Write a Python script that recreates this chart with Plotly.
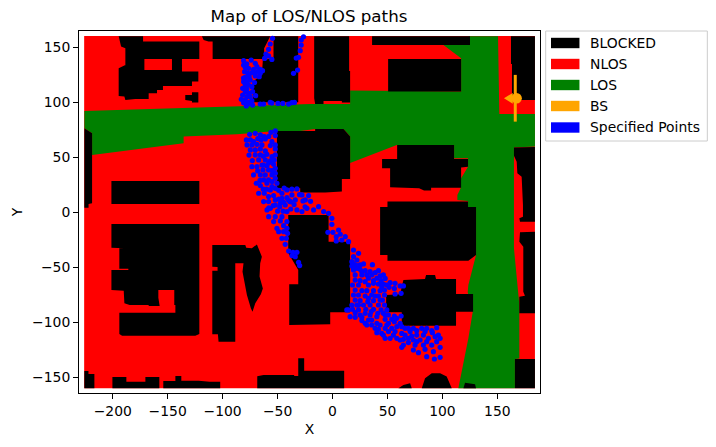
import plotly.graph_objects as go

# ---- data (all in data units) ----
los_polygon = [(-225.8,92),(-20.3,98.5),(16,98.5),(16,110.6),(117,109.7),(117,140),(100.9,152),(125.1,160),(150.6,160),
 (151.8,89.4),(184.2,89.4),(184.2,59.7),(165.1,59),(165.1,-32.8),(170,-84),(170,-133),(166,-133.4),(166,-160),(114.5,-160),
 (117.6,-144.9),(123.6,-114.6),(127.6,-90.4),(123,-72.8),(123.6,-66.1),(129.7,-41.9),(130.6,-38.9),(130.6,4.3),(123.3,4.3),
 (123.3,10.3),(113.6,11.2),(113.6,15.8),(116.6,21.8),(117,30.9),(120.6,37),(123.3,41.5),(123.3,49.1),(110.6,49.1),(110.6,61.2),
 (58.5,61.2),(16,44.9),(16,68.8),(10,75.8),(-15.8,75.8),(-29.4,74),(-50.6,74),(-87,70.9),(-135.5,68.8),(-135.5,62.7),
 (-218.8,52.1),(-218.8,71.8),(-225.8,76.4)]

blocked_polygons = [
 [(-194.6,160),(-172.4,160),(-172.4,155.2),(-121.2,155.2),(-121.2,139.4),(-137,139.4),(-137,129.4),(-146.1,129.4),(-146.1,139.4),(-171.2,139.4),(-171.2,129.4),(-188.5,129.4),(-188.5,140),(-188.5,149.1),(-192.4,150.6)],
 [(-194.6,130.9),(-188.5,134),(-171.2,134),(-171.2,129.4),(-137,129.4),(-137,127.9),(-122.1,127.9),(-122.1,118.8),(-127.9,118.8),(-127.9,114.9),(-154.3,114.9),(-154.3,111.2),(-159.7,111.2),(-159.7,108.2),(-167.3,108.2),(-167.3,103),(-179.4,103),(-188.5,102.1),(-189.4,105.2),(-194.6,105.8)],
 [(-134,106.7),(-127.9,106.7),(-127.9,109.1),(-122.1,109.1),(-122.1,99.7),(-127.9,99.7),(-127.9,101.2),(-134,102.1)],
 [(-118.8,160),(-117.3,156.7),(-112.8,155.2),(-109.1,155.2),(-109.1,139.4),(-62.2,139.4),(-62.2,149.1),(-58.2,156.7),(-56.7,160)],
 [(-53.7,160),(-31.2,160),(-31.2,100),(-72.5,100),(-72.5,118.8),(-64.3,124.9),(-63.4,138.5),(-53.7,140)],
 [(-225.8,76.4),(-218.8,71.8),(-218.8,8.2),(-222,7.6),(-222,4.2),(-225.8,4.2)],
 [(-201.2,28.5),(-121.2,28.5),(-121.2,7.6),(-201.2,7.6)],
 [(-50.6,74),(-15.8,74),(-15.8,75.8),(10,75.8),(16,68.8),(16,30.3),(8.5,30.3),(8.5,18.8),(-6.7,17.9),(-29.4,17.9),(-29.4,21.8),(-50.6,21.8)],
 [(-40.3,-2.5),(-40.3,-37),(-31.2,-52.5),(-31.2,-65.5),(-39.4,-65.5),(-39.4,-102.5),(-2.1,-101.9),(-2.1,-91),(16,-91),(16,-26.7),(-3.6,-26.7),(-3.6,-2.5)],
 [(-201.2,-10.7),(-121.2,-10.7),(-121.2,-110.7),(-124.9,-112.2),(-191.5,-112.2),(-194,-110.7),(-194,-91.3),(-143,-91.3),(-143,-84.3),(-144,-84.3),(-144,-70.7),(-158.5,-70.7),(-158.5,-77.6),(-157.3,-85.2),(-167.3,-85.2),(-167.3,-84.3),(-184.6,-84.3),(-189.4,-82.8),(-190,-71.3),(-201.2,-70.7),(-201.2,-52.5),(-185.8,-52.5),(-185.8,-51.3),(-194,-51.3),(-194,-32.8),(-189.4,-32.8),(-201.2,-32.2)],
 [(-109.4,-29.8),(-79.4,-29.8),(-78.5,-32.2),(-73.4,-32.8),(-68.8,-29.2),(-64.3,-40.4),(-65.8,-46.4),(-65.8,-54),(-66.4,-58.5),(-63.4,-69.2),(-65.2,-74.6),(-70.3,-82.8),(-72.8,-90.4),(-74.3,-87.3),(-77.9,-75.2),(-81.9,-54),(-81,-46.4),(-88.5,-46.4),(-88.5,-117.6),(-103.7,-117.6),(-104.3,-111),(-109.4,-111),(-109.4,-53.1),(-104.6,-53.1),(-104.6,-49.8),(-109.4,-49.5)],
 [(-225.8,-144.3),(-222.1,-144.3),(-222.1,-147),(-216.7,-147),(-216.7,-160),(-225.8,-160)],
 [(-200.3,-149.7),(-187.6,-149.7),(-187.6,-154),(-170.3,-154),(-170.3,-149.7),(-157.6,-149.7),(-157.6,-160),(-200.3,-160)],
 [(-154,-153.4),(-143,-153.4),(-143,-148.8),(-137.6,-148.8),(-137.6,-153.1),(-121.8,-153.1),(-111.8,-154),(-102.2,-154),(-102.2,-160),(-154,-160)],
 [(-68.5,-149.1),(-62.8,-147.9),(-34.9,-147.9),(-34.9,-148.8),(-31.2,-148.8),(-31.2,-132.8),(-25.8,-132.8),(-25.8,-144),(10.6,-144),(10.6,-160),(-68.5,-160)],
 [(60,-160),(64.5,-157),(70.6,-155.5),(72.1,-160)],
 [(81.2,-160),(84.2,-151),(90.3,-146.4),(97.9,-146.4),(103.9,-149.4),(108.5,-160)],
 [(119.1,-160),(120.6,-154.9),(129.7,-156.4),(130.6,-160)],
 [(166,-133.4),(184.2,-133.4),(184.2,-160),(166,-160)],
 [(36,160),(125.1,160),(125.1,152.1),(36,152.1)],
 [(50.6,139.4),(117,139.4),(117,109.7),(50.6,109.7)],
 [(-16.7,160),(15.1,160),(15.1,128.5),(16,128.5),(16,99.7),(8.5,99.7),(8.5,101.2),(-8.2,101.2),(-8.2,98.5),(-15.8,98.5),(-16.7,103.6)],
 [(162.4,160),(184.2,160),(184.2,102.1),(163.3,102.1),(163.3,134.8),(162.4,134.8)],
 [(58.8,61.2),(110.6,61.2),(110.6,48.5),(123.3,48.5),(123.3,41.5),(117,40.6),(117,22.4),(89.7,22.4),(89.7,19.7),(83.3,19.7),(78.8,21.8),(52.4,22.7),(52.4,40),(45.1,40),(45.1,48.5),(58.8,48.5)],
 [(165.1,58.8),(179.1,58.8),(179.1,59.4),(184.2,59.4),(184.2,-8.6),(170.6,-8.6),(170,-5.5),(173.3,-4),(173.3,6.7),(172.1,32.4),(168.2,35.5),(167.6,46),(165.1,51.5)],
 [(170.6,-18.2),(184.2,-17.6),(184.2,-91.9),(170,-91.9),(170,-76.7),(175.1,-75.8),(173.6,-72.2),(173.6,-31.3),(170,-26.7)],
 [(50,9.7),(123.3,9.7),(123.3,4.9),(130.6,4.9),(130.6,-38.9),(123.6,-44),(50,-44),(50,-38.9),(43.3,-38.9),(43.3,4.9),(50,4.9)],
 [(64.5,-61.6),(84.2,-60.7),(85.1,-57),(93.3,-57),(94.2,-60.7),(112.4,-60.7),(112.4,-74.3),(127.9,-74.3),(127.9,-90.4),(112.4,-90.4),(112.4,-103.1),(63,-103.1),(63,-91),(48.8,-91),(48.8,-75.2),(61.5,-74.6)],
]

points_north = [(-54.6,158.1),(-56.7,153),(-58.2,148.1),(-60.6,143.9),(-61.8,139.9),(-58.2,142.1),(-55.2,139),(-26.4,159.5),(-28.5,156.6),(-28.5,152),(-29.4,146.9),(-30.9,140.9),(-33,140.2),(-35.5,126.3),(-31.8,129.3),
 (-80.9,137.8),(-80.9,133.9),(-79.4,131.8),(-74,138.4),(-70.3,135.4),(-68.8,132.4),(-76.4,130.9),(-71.8,130),(-65.8,130),(-63.7,128.7),(-80,127.8),(-77,126.3),(-73.4,126.9),(-70.3,126.3),(-65.8,126.3),(-79.4,122.7),(-75.8,123.3),(-70.3,123.9),(-66.7,123.3),(-80.9,118.7),(-77.9,118.7),(-74.9,120.2),(-79.4,115.7),(-76.4,115.7),(-81.8,112.7),(-73.4,114.2),(-79.4,109.6),(-75.8,108.1),(-72.7,109.6),(-81.8,106.6),(-77.9,105.1),(-74.9,105.1),(-83,102.7),(-79.4,102.1),(-73.4,101.5),(-80.9,99.6),(-77,98.4),(-78.5,96.6),(-72.7,97.5),(-65.8,98.4),(-62.7,98.4),(-56.7,99.9),(-55.2,99.3),(-49.7,99),(-45.2,99),(-40,98.4),(-37,99.6),(-34.6,99.9),
 (-78,135),(-68,128),(-78,112),(-71,118),(-76,100),(-70,106),(-81,122)]

points_middle = [(-75.4,70.9),(-70.3,71.8),(-65.7,70.3),(-62.1,68.8),(-56,72.7),(-52.1,74),(-52.1,69.7),(-78.4,65.8),(-74.8,65.8),(-71.8,64.3),(-65.1,65.8),(-61.2,66.7),(-55.1,64.3),(-52.1,61.2),(-77.8,61.2),(-73.3,61.2),(-68.8,61.8),(-64.2,61.2),(-56.6,60.6),(-74.8,56.7),(-70.3,56.7),(-65.7,57.6),(-61.2,55.8),(-52.1,57.6),(-70.3,52.1),(-65.7,52.1),(-59.7,52.7),(-55.1,50.6),(-52.1,52.1),(-67.2,47.6),(-61.2,47.6),(-56.6,46.7),(-53,47.6),(-73.3,41.5),(-68.8,41.5),(-64.2,43),(-59.7,42.4),(-53.6,43.6),(-68.1,37.6),(-63.3,38.5),(-58.2,38.5),(-52.1,40),(-71.8,34),(-65.7,34),(-61.2,34),(-55.1,34),(-52.1,35.5),(-62.7,29.4),(-58.2,29.4),(-52.1,30.9),(-69.4,26.4),(-65.7,24.3),(-59.7,26.4),(-55.1,23.4),(-50.6,26.4),(-67.2,17.3),(-62.1,17.3),(-56.6,20.3),(-52.1,21.8),(-58.2,14.3),(-53.6,15.2),(-62.7,9.7),(-58.2,9.7),(-52.1,11.2),(-46,17.3),(-41.5,20.3),(-46,12.7),(-41.5,13.3),(-36.9,15.8),(-32.4,21.2),(-33.9,11.2),(-38.4,9.7),(-44.5,9.1),(-27.8,15.8),(-24.8,11.2),(-21.8,15.2),(-26.9,10.3),
 (-68,67),(-58,69),(-76,52),(-73,47),(-63,51),(-58,45),(-63,43),(-55,38),(-66,29),(-55,28),(-60,21),(-63,21),(-49,20),(-44,22),(-37,21),(-30,16),(-40,11),(-49,12),(-35,7),(-54,6),(-48,5),(-58,4),(-50,1),(-45,1),(-38,3),(-25,5),(-20,10)]

points_neck = [(-59.6,2.1),(-56.6,3.6),(-52.1,6.6),(-47.5,8.1),(-43,6.6),(-38.4,9.6),(-32.4,2.1),(-27.8,0.6),(-23.3,3.6),(-17.2,2.1),(-12.7,5.1),(-8.1,0.6),(-3.6,-1),(-58.1,-4),(-52.1,-4),(-46,-4),(-41.5,0.6),(-53.6,-8.5),(-47.5,-7.9),(-41.5,-8.5),(-0.6,-5.5),(-50.6,-14.6),(-44.5,-12.2),(-41.5,-14.6),(-49,-17.6),(-44.5,-17.6),(-40.9,-19.1),(-46,-23.7),(-42.1,-23.7),(-43,-29.1),(-39.9,-35.2),(-36,-36.4),(-32.4,-36.4),(-33.9,-40.4),(-36.9,-39.4),(-30.9,-45.5),(-29.9,-48.5),(-4.2,-18.2),(-0.6,-11),(0.4,-18.2),(5.5,-16.1),(3.4,-22.2),(7,-20),(8.5,-25.2),(11.6,-22.2),(14.6,-26.7),(3.4,-26.1),(19.1,-34.3),(23.7,-37.3),(19.1,-40.4),(22.2,-43.4),(18.5,-46.4),(23.7,-48.5),(19.1,-51.6)]

points_south = [(17.6,-44.9),(17.6,-48.9),(20.6,-47.9),(25.1,-47.9),(28.2,-47),(36.3,-47.6),(19.1,-52.5),(25.1,-51.9),(29.7,-53.1),(34.2,-54),(38.8,-54.9),(41.8,-53.1),(20.6,-57),(26.7,-57),(31.2,-57),(35.7,-57),(43.3,-57.9),(46.3,-57),(20.6,-61.6),(25.1,-62.2),(29.7,-63.1),(37.3,-62.2),(44.2,-62.2),(47.9,-60.1),(52.4,-64),(56.9,-64.6),(64.5,-67),(18.2,-66.1),(23.6,-66.1),(32.7,-66.1),(41.8,-65.2),(46.3,-65.2),(51.5,-68.2),(56.3,-69.2),(61.5,-67),(20.6,-70.7),(26.7,-71.3),(31.2,-71.3),(37.3,-71.3),(43.3,-71.3),(47.3,-70.7),(56.9,-74.3),(62.4,-73.7),(19.1,-75.2),(23.6,-75.2),(29.7,-76.1),(35.7,-75.2),(41.8,-76.1),(47.3,-75.2),(20.6,-79.8),(25.1,-80.4),(32.1,-81.3),(37.3,-80.4),(45.4,-79.8),(17.6,-84.3),(22.1,-84.3),(28.2,-84.3),(34.2,-84.3),(41.8,-84.3),(47.3,-84.3),(13,-88.8),(18.2,-88.2),(23.6,-88.8),(30.3,-88.2),(37.3,-88.2),(44.2,-88.8),(50.9,-93.4),(56.3,-94.3),(62.4,-94.3),(16,-94.9),(20.6,-95.5),(26.7,-95.5),(26.7,-98.5),(34.2,-93.4),(40.3,-94.9),(47.9,-97.3),(53.9,-97.3),(58.5,-96.4),(61.5,-101),(31.2,-102.5),(35.7,-102.5),(40.3,-101),(43.3,-102.5),(49.4,-102.5),(58.5,-104),(66,-105.5),(73.6,-105.5),(81.2,-105.5),(94.8,-104.9),(40.3,-109.5),(44.8,-110.1),(50.9,-108.5),(56.9,-108.5),(63,-110.1),(70.6,-108.5),(76.6,-111.6),(84.2,-108.5),(90.9,-109.5),(96.3,-111.6),(47.9,-114.6),(52.4,-114.6),(58.5,-114.6),(64.5,-115.5),(73.6,-116.1),(79.7,-116.1),(87.3,-114.6),(97.9,-114.6),(64.5,-120.7),(69,-118.5),(75.1,-120.7),(82.7,-120.7),(90.3,-120.7),(97.9,-122.8),(73.6,-125.2),(78.2,-127.6),(84.2,-124.6),(91.8,-126.7),(85.7,-131.3),(92.7,-133.4),(97.9,-131.9),(63,-122.8),
 (22.1,-51),(26.7,-54),(32.7,-60),(37.3,-64.6),(40.3,-60),(44.8,-67.6),(49.4,-66.1),(14.5,-88.8),(20.6,-91.3),(25.1,-93.4),(29.7,-91.9),(35.1,-90.4),(41.2,-91.9),(46.3,-91.9),(49.4,-88.8),(32.7,-78.2),(38.8,-76.1),(43.3,-79.8),(23.6,-84.3),(63,-104),(69,-105.5),(76.6,-107.6),(85.7,-105.5),(90.3,-107.6),(66,-111.6),(72.1,-112.5),(82.7,-111.6),(93.3,-113.1),(61.5,-116.1),(69,-114.6),(76.6,-117.6),(85.7,-117.6),(94.8,-117.6),(41.8,-106.4),(47.9,-105.5),(53.9,-105.5),(46.3,-111.6),(55.4,-111.6),(50.9,-101),(56.3,-99.5),(47.9,-93.4),(35.7,-98),(38.8,-105.5),(32.7,-98),(29.7,-101)]

bs_line_x = [166.3, 166.3]
bs_line_y = [82.4, 124.9]
bs_x = [167.5]
bs_y = [103.6]
bs_arrow_x = [156, 164, 164]
bs_arrow_y = [103.6, 108.5, 98.7]

map_x = [-226, 184.2, 184.2, -226]
map_y = [-160, -160, 160.3, 160.3]
x_range = [-230.7, 188.8]
y_range = [-164.3, 164.8]
legend_labels = ["BLOCKED", "NLOS", "LOS", "BS", "Specified Points"]
legend_colors = ["#000000", "#ff0000", "#008000", "#ffa500", "#0000ff"]

# ---- drawing ----
W, H = 716, 447
L, R, T, B = 78.5, 540, 31, 393
FONT = "DejaVu Sans"

def flat(polys):
    xs, ys = [], []
    for p in polys:
        xs += [q[0] for q in p] + [p[0][0], None]
        ys += [q[1] for q in p] + [p[0][1], None]
    return xs, ys

def area(x, y, color):
    return go.Scatter(x=x, y=y, mode="lines", fill="toself", fillcolor=color,
                      line=dict(width=0, color=color), hoverinfo="skip", showlegend=False)

fig = go.Figure()
fig.add_trace(area(map_x + map_x[:1], map_y + map_y[:1], "#ff0000"))
lx, ly = flat([los_polygon])
fig.add_trace(area(lx, ly, "#008000"))
bx, by = flat(blocked_polygons)
fig.add_trace(area(bx, by, "#000000"))

all_pts = points_north + points_middle + points_neck + points_south
fig.add_trace(go.Scatter(x=[p[0] for p in all_pts], y=[p[1] for p in all_pts], mode="markers",
                         marker=dict(color="#0000ff", size=5.2, line=dict(width=0)), showlegend=False))

fig.add_trace(go.Scatter(x=bs_line_x, y=bs_line_y, mode="lines", line=dict(color="#ffa500", width=3), showlegend=False))
fig.add_trace(area(bs_arrow_x + bs_arrow_x[:1], bs_arrow_y + bs_arrow_y[:1], "#ffa500"))
fig.add_trace(go.Scatter(x=bs_x, y=bs_y, mode="markers", marker=dict(color="#ffa500", size=10.5), showlegend=False))

px = lambda v: (v - L) / (R - L)
py = lambda v: (B - v) / (B - T)

shapes = [dict(type="rect", xref="paper", yref="paper", x0=px(545.7), x1=px(707.5), y0=py(141), y1=py(31),
               line=dict(color="#cccccc", width=1), fillcolor="white")]
annots = []
for i, (lab, col) in enumerate(zip(legend_labels, legend_colors)):
    cy = [43, 64, 85, 106, 127.5][i]
    shapes.append(dict(type="rect", xref="paper", yref="paper", x0=px(551), x1=px(579.5), y0=py(cy + 5.2), y1=py(cy - 5.2),
                       line=dict(width=0), fillcolor=col))
    annots.append(dict(text=lab, xref="paper", yref="paper", x=px(588), y=py(cy), xanchor="left", yanchor="middle",
                       showarrow=False, font=dict(family=FONT, size=13.9, color="#000000")))

axis = dict(showgrid=False, zeroline=False, showline=True, linecolor="black", linewidth=1.1, mirror=True,
            ticks="outside", ticklen=4.9, tickwidth=1.1, tickcolor="black", tickfont=dict(family=FONT, size=13.9, color="black"))
fig.update_layout(
    width=W, height=H, margin=dict(l=L, r=W - R, t=T, b=H - B, pad=0),
    paper_bgcolor="white", plot_bgcolor="white", showlegend=False,
    font=dict(family=FONT, color="black"),
    title=dict(text="Map of LOS/NLOS paths", x=(309) / W, xanchor="center", y=1 - 16 / H, yanchor="middle",
               font=dict(family=FONT, size=16.7, color="black")),
    xaxis=dict(axis, range=x_range, tickmode="array", tickvals=[-200, -150, -100, -50, 0, 50, 100, 150],
               title=dict(text="X", font=dict(family=FONT, size=13.9, color="black"), standoff=6)),
    yaxis=dict(axis, range=y_range, tickmode="array", tickvals=[-150, -100, -50, 0, 50, 100, 150],
               title=dict(text="Y", font=dict(family=FONT, size=13.9, color="black"), standoff=6)),
    shapes=shapes, annotations=annots,
)
fig.write_html("out.html", config={"displayModeBar": False}, post_script="document.body.style.margin='0';")
